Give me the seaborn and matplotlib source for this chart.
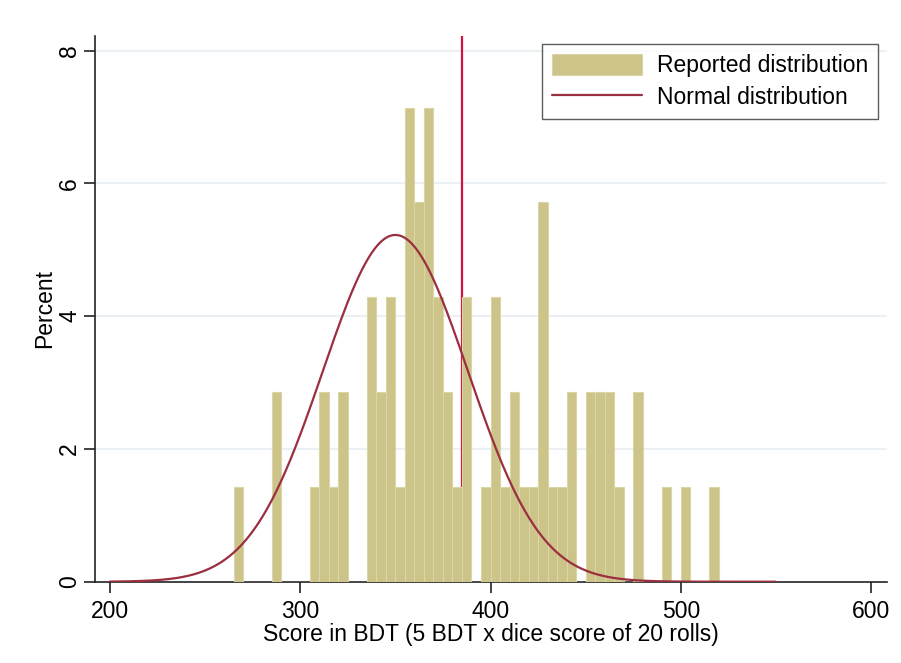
import numpy as np
import pandas as pd
import matplotlib
matplotlib.use("Agg")
import matplotlib.pyplot as plt
from matplotlib.patches import Patch
from matplotlib.lines import Line2D
import seaborn as sns

# Reported scores (left edge of each 5-BDT bin) and how many players reported each
scores = [265, 285, 305, 310, 315, 320, 335, 340, 345, 350, 355, 360, 365, 370,
          375, 380, 385, 395, 400, 405, 410, 415, 420, 425, 430, 435, 440, 450,
          455, 460, 465, 475, 490, 500, 515]
counts = [1, 2, 1, 2, 1, 2, 3, 2, 3, 1, 5, 4, 5, 3,
          2, 1, 3, 1, 3, 1, 2, 1, 1, 4, 1, 1, 2, 2,
          2, 2, 1, 2, 1, 1, 1]

# Theoretical distribution of 5 x (sum of 20 fair dice)
n_rolls = 20
bdt_per_pip = 5
normal_mean = bdt_per_pip * 3.5 * n_rolls
normal_sd = bdt_per_pip * np.sqrt(n_rolls * 35 / 12)
curve_range = (200, 550)

reported_mean = 385
bin_width = 5

x_ticks = [200, 300, 400, 500, 600]
y_ticks = [0, 2, 4, 6, 8]

bar_color = "#ccc488"
bar_edge = "#dbd6a6"
curve_color = "#9b2f40"
mean_color = "#d3123f"
grid_color = "#e6eef1"
font_size = 16.5

sns.set_theme(style="white")
plt.rcParams["font.family"] = ["Liberation Sans", "DejaVu Sans"]
plt.rcParams["text.color"] = "black"
plt.rcParams["axes.labelcolor"] = "black"

fig = plt.figure(figsize=(9.01, 6.63), dpi=100)
ax = fig.add_axes([0.1054, 0.1226, 0.8791, 0.8231])

df = pd.DataFrame({"score": np.repeat(scores, counts)})
sns.histplot(data=df, x="score", binwidth=bin_width, binrange=(265, 520),
             stat="percent", color=bar_color, edgecolor=bar_edge, linewidth=0.8,
             alpha=1, ax=ax, zorder=3)

xs = np.linspace(curve_range[0], curve_range[1], 600)
dens = np.exp(-0.5 * ((xs - normal_mean) / normal_sd) ** 2) / (normal_sd * np.sqrt(2 * np.pi))
curve = pd.DataFrame({"x": xs, "pct": dens * bin_width * 100})
sns.lineplot(data=curve, x="x", y="pct", color=curve_color, linewidth=1.6, ax=ax, zorder=4)

ax.axvline(reported_mean, color=mean_color, linewidth=1.6, zorder=2)

ax.set_xlim(192.1, 608.4)
ax.set_ylim(0, 8.22)
ax.set_xticks(x_ticks)
ax.set_yticks(y_ticks)
ax.set_yticklabels([str(t) for t in y_ticks], rotation=90, va="center")
ax.tick_params(axis="both", which="major", direction="out", length=8, width=1.2,
               color="#222222", labelsize=font_size, labelcolor="black",
               bottom=True, left=True)
ax.tick_params(axis="x", pad=5)
ax.tick_params(axis="y", pad=2)

for y in y_ticks[1:]:
    ax.axhline(y, color=grid_color, linewidth=1.2, zorder=0)

for side in ("top", "right"):
    ax.spines[side].set_visible(False)
for side in ("left", "bottom"):
    ax.spines[side].set_color("#222222")
    ax.spines[side].set_linewidth(1.2)

ax.set_xlabel("Score in BDT (5 BDT x dice score of 20 rolls)", fontsize=font_size,
              labelpad=0)
ax.set_ylabel("Percent", fontsize=font_size)
ax.yaxis.label.set_va("center")
ax.yaxis.set_label_coords(-0.063, 0.5)

handles = [Patch(facecolor=bar_color, edgecolor=bar_edge, linewidth=0.8),
           Line2D([0], [0], color=curve_color, linewidth=1.6)]
leg = ax.legend(handles, ["Reported distribution", "Normal distribution"],
                loc="upper right", bbox_to_anchor=(0.989, 0.9853), borderaxespad=0,
                fontsize=font_size, frameon=True, fancybox=False, handlelength=3.9,
                handleheight=1.0, labelspacing=0.35, borderpad=0.45,
                handletextpad=0.65)
leg.get_frame().set_edgecolor("#333333")
leg.get_frame().set_linewidth(1.0)
leg.set_zorder(6)

fig.savefig("out.png", dpi=100, facecolor="white")
